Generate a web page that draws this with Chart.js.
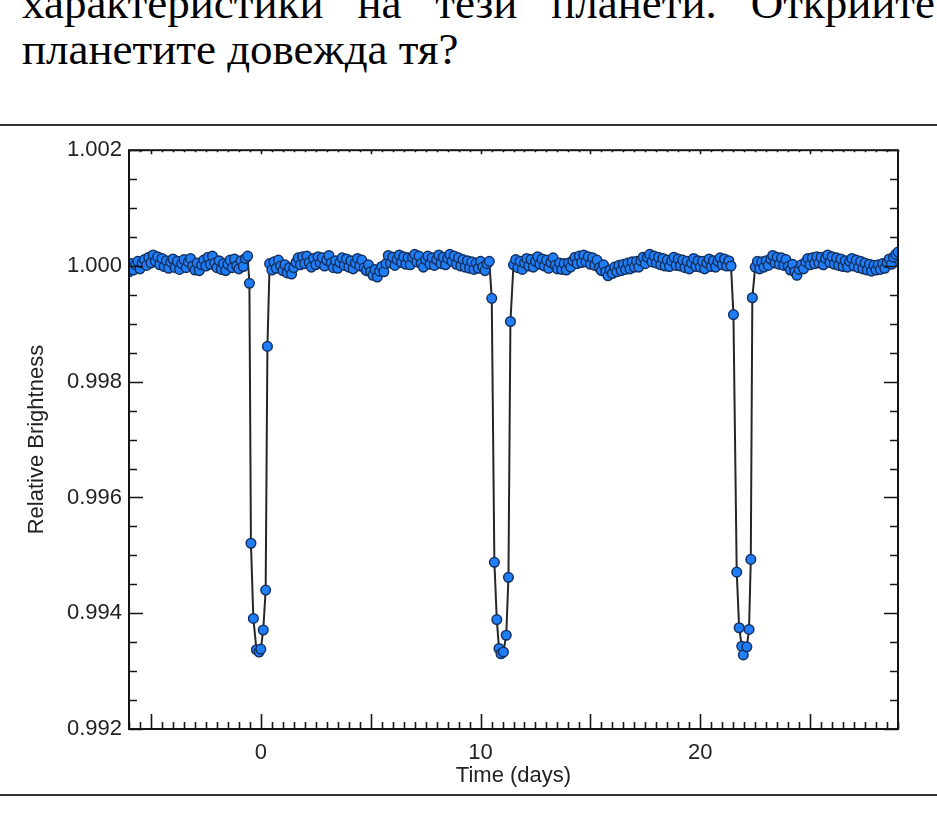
<!DOCTYPE html>
<html>
<head>
<meta charset="utf-8">
<script src="https://cdn.jsdelivr.net/npm/chart.js@4.4.1/dist/chart.umd.min.js"></script>
<style>
  html, body { margin: 0; padding: 0; background: #fff; }
  body { width: 937px; height: 816px; position: relative; overflow: hidden; }
  .txt { position: absolute; left: 22px; width: 913px; font-family: "Liberation Serif", "Times New Roman", serif;
         font-size: 45px; line-height: 46px; color: #000; }
  .l1 { top: -20px; text-align: justify; text-align-last: justify; }
  .l2 { top: 26px; }
  .rule { position: absolute; left: 0; width: 937px; height: 2px; background: #333; }
  #chart { position: absolute; left: 0; top: 130px; }
</style>
</head>
<body>
<div class="txt l1">характеристики на тези планети. Открийте</div>
<div class="txt l2">планетите довежда тя?</div>
<div class="rule" style="top:124px"></div>
<canvas id="chart" width="937" height="660"></canvas>
<div class="rule" style="top:794px"></div>

<script>
// light curve
const CADENCE = 0.1; // days between baseline samples

const baseA_start = -6.0;
const baseA = [
  0.99990, 1.00004, 0.99993, 1.00002, 1.00008, 0.99995, 1.00005, 1.00011, 1.00001, 1.00015,
  1.00005, 1.00019, 1.00008, 1.00016, 1.00002, 1.00013, 0.99999, 1.00009, 0.99996, 1.00007,
  1.00012, 0.99997, 1.00008, 0.99994, 1.00004, 1.00011, 0.99997, 1.00007, 1.00013, 1.00000,
  0.99993, 1.00005, 0.99992, 1.00002, 1.00010, 1.00000, 1.00015, 1.00003, 1.00017, 1.00005,
  0.99997, 1.00009, 0.99994, 1.00004, 0.99992, 1.00003, 1.00010, 0.99997, 1.00012, 1.00000,
  0.99995, 1.00009, 0.99999, 1.00013, 1.00017
];

const baseB_start = 0.4;
const baseB = [
  1.00004, 0.99993, 1.00007, 0.99996, 1.00010, 1.00000, 0.99992, 1.00002, 0.99988, 0.99997,
  0.99986, 0.99997, 1.00006, 1.00014, 1.00002, 1.00016, 1.00004, 1.00017, 1.00006, 0.99998,
  1.00013, 1.00002, 1.00016, 1.00005, 1.00014, 1.00000, 1.00010, 1.00018, 1.00005, 0.99997,
  1.00009, 0.99996, 1.00006, 1.00014, 1.00001, 1.00012, 0.99998, 1.00009, 0.99995, 1.00005,
  1.00013, 1.00000, 1.00010, 0.99997, 0.99992, 1.00002, 0.99990, 0.99984, 0.99994, 0.99981,
  0.99991, 0.99999, 0.99990, 1.00004, 1.00018, 1.00005, 1.00015, 1.00001, 1.00011, 1.00019,
  1.00006, 1.00016, 1.00003, 1.00014, 1.00002, 1.00015, 1.00020, 1.00007, 1.00017, 1.00004,
  0.99998, 1.00011, 1.00017, 1.00003, 1.00014, 1.00001, 1.00011, 1.00019, 1.00004, 1.00015,
  1.00002, 1.00013, 1.00020, 1.00008, 1.00017, 1.00003, 1.00014, 1.00000, 1.00011, 0.99998,
  1.00009, 0.99996, 1.00007, 0.99994, 1.00005, 0.99996, 1.00008, 0.99998, 0.99992, 1.00004,
  1.00008
];

const baseC_start = 11.5;
const baseC = [
  1.00002, 1.00011, 0.99997, 1.00008, 0.99994, 1.00005, 1.00013, 1.00000, 1.00011, 0.99998,
  1.00008, 1.00016, 1.00003, 1.00012, 1.00000, 1.00010, 0.99996, 1.00006, 1.00014, 1.00001,
  0.99995, 1.00005, 0.99994, 1.00004, 0.99993, 1.00005, 0.99998, 1.00009, 1.00015, 1.00004,
  1.00017, 1.00006, 1.00019, 1.00007, 1.00016, 1.00003, 1.00014, 1.00001, 1.00010, 0.99997,
  0.99992, 1.00002, 0.99990, 0.99983, 0.99993, 0.99987, 0.99998, 0.99990, 1.00001, 0.99992,
  1.00003, 0.99994, 1.00005, 0.99995, 1.00007, 0.99998, 1.00008, 0.99998, 1.00009, 1.00015,
  1.00004, 1.00015, 1.00020, 1.00007, 1.00017, 1.00005, 1.00015, 1.00002, 1.00013, 1.00000,
  1.00010, 0.99999, 1.00009, 1.00015, 1.00001, 1.00012, 1.00000, 1.00010, 0.99997, 1.00008,
  0.99995, 1.00005, 1.00013, 0.99999, 1.00009, 0.99998, 1.00008, 0.99995, 1.00005, 1.00012,
  0.99999, 1.00009, 0.99998, 1.00008, 1.00014, 1.00002, 1.00012, 1.00000, 1.00009, 1.00000
];

const baseD_start = 22.5;
const baseD = [
  0.99998, 1.00008, 0.99995, 1.00007, 0.99998, 1.00009, 1.00001, 1.00012, 1.00018, 1.00005,
  1.00015, 1.00003, 1.00014, 1.00001, 1.00011, 0.99999, 0.99993, 1.00003, 0.99990, 0.99984,
  0.99994, 1.00002, 0.99995, 1.00007, 1.00013, 1.00002, 1.00014, 1.00004, 1.00016, 1.00005,
  1.00015, 1.00002, 1.00013, 1.00019, 1.00006, 1.00016, 1.00003, 1.00014, 1.00001, 1.00012,
  0.99999, 1.00009, 0.99998, 1.00008, 1.00013, 1.00000, 1.00010, 0.99997, 1.00008, 0.99995,
  1.00005, 0.99993, 1.00003, 0.99991, 1.00001, 0.99993, 1.00002, 0.99994, 1.00004, 0.99996,
  1.00006, 1.00012, 1.00003, 1.00015, 1.00020, 1.00024
];

// the three transits
const transit1Times  = [-0.52, -0.45, -0.34, -0.20, -0.08, 0.00, 0.11, 0.22, 0.30];
const transit1Values = [0.99970, 0.99521, 0.99391, 0.99337, 0.99333, 0.99338, 0.99371, 0.99440, 0.99861];
const transit2Times  = [10.51, 10.63, 10.74, 10.84, 10.93, 11.04, 11.17, 11.27, 11.36];
const transit2Values = [0.99944, 0.99488, 0.99389, 0.99339, 0.99330, 0.99333, 0.99362, 0.99462, 0.99904];
const transit3Times  = [21.51, 21.66, 21.77, 21.89, 21.96, 22.12, 22.22, 22.30, 22.37];
const transit3Values = [0.99916, 0.99471, 0.99375, 0.99343, 0.99328, 0.99342, 0.99372, 0.99493, 0.99945];

// axes
const xMin = -6, xMax = 29;
const yMin = 0.992, yMax = 1.002;
const xTickLabels = [0, 10, 20];
const yTickLabels = [0.992, 0.994, 0.996, 0.998, 1.000, 1.002];

const FONT = '"Liberation Sans", Arial, Helvetica, sans-serif';
const TEXT = '#222';

function baselinePoints(start, values) {
  return values.map((v, i) => ({ x: +(start + i * CADENCE).toFixed(2), y: v }));
}
function transitPoints(times, values) {
  return times.map((t, i) => ({ x: t, y: values[i] }));
}

const lightCurve = [].concat(
  baselinePoints(baseA_start, baseA),
  transitPoints(transit1Times, transit1Values),
  baselinePoints(baseB_start, baseB),
  transitPoints(transit2Times, transit2Values),
  baselinePoints(baseC_start, baseC),
  transitPoints(transit3Times, transit3Values),
  baselinePoints(baseD_start, baseD)
);

// box frame with inward ticks on all sides
const frameTicks = {
  id: 'frameTicks',
  afterDatasetsDraw(chart) {
    const { ctx, chartArea: a, scales: { x, y } } = chart;
    ctx.save();
    ctx.strokeStyle = '#151515';
    ctx.lineWidth = 1.6;
    ctx.beginPath();
    for (let i = 0; i <= (xMax - xMin) * 2; i++) {
      const t = xMin + i * 0.5;
      const major = Math.abs(t / 5 - Math.round(t / 5)) < 1e-6;
      const px = Math.round(x.getPixelForValue(t)) + 0.5;
      const lb = major ? 15 : 7;
      const lt = major ? 4 : 2;
      ctx.moveTo(px, a.bottom); ctx.lineTo(px, a.bottom - lb);
      ctx.moveTo(px, a.top); ctx.lineTo(px, a.top + lt);
    }
    for (let i = 0; i <= 20; i++) {
      const v = yMin + i * 0.0005;
      const major = i % 4 === 0;
      const py = Math.round(y.getPixelForValue(v)) + 0.5;
      const len = major ? 14 : 8;
      ctx.moveTo(a.left, py); ctx.lineTo(a.left + len, py);
      ctx.moveTo(a.right, py); ctx.lineTo(a.right - len, py);
    }
    ctx.stroke();
    ctx.lineWidth = 2;
    ctx.strokeRect(a.left, a.top, a.right - a.left, a.bottom - a.top);
    ctx.restore();
  }
};

new Chart(document.getElementById('chart'), {
  type: 'scatter',
  data: {
    datasets: [{
      data: lightCurve,
      showLine: true,
      borderColor: '#262626',
      borderWidth: 2,
      tension: 0,
      pointRadius: 4.8,
      pointBorderWidth: 1.5,
      pointBackgroundColor: '#1f7ef7',
      pointBorderColor: '#15305e',
      pointHoverRadius: 4.8
    }]
  },
  options: {
    responsive: false,
    animation: false,
    events: [],
    layout: { padding: { left: 0, top: 19, right: 39, bottom: 0 } },
    plugins: { legend: { display: false }, tooltip: { enabled: false } },
    scales: {
      x: {
        type: 'linear',
        min: xMin,
        max: xMax,
        afterBuildTicks: s => { s.ticks = xTickLabels.map(v => ({ value: v })); },
        afterFit: s => { s.height = 61; },
        grid: { display: false, drawTicks: false },
        border: { display: false },
        ticks: { padding: 11, maxRotation: 0, color: TEXT, font: { family: FONT, size: 22 }, callback: v => String(v) },
        title: { display: true, text: 'Time (days)', color: TEXT, font: { family: FONT, size: 22 }, padding: { top: 0, bottom: 1 } }
      },
      y: {
        type: 'linear',
        min: yMin,
        max: yMax,
        afterBuildTicks: s => { s.ticks = yTickLabels.map(v => ({ value: v })); },
        afterFit: s => { s.width = 129; },
        grid: { display: false, drawTicks: false },
        border: { display: false },
        ticks: { padding: 7, color: TEXT, font: { family: FONT, size: 22 }, callback: v => v.toFixed(3) },
        title: { display: true, text: 'Relative Brightness', color: TEXT, font: { family: FONT, size: 22 }, padding: { top: 24, bottom: 0 } }
      }
    }
  },
  plugins: [frameTicks]
});
</script>
</body>
</html>
